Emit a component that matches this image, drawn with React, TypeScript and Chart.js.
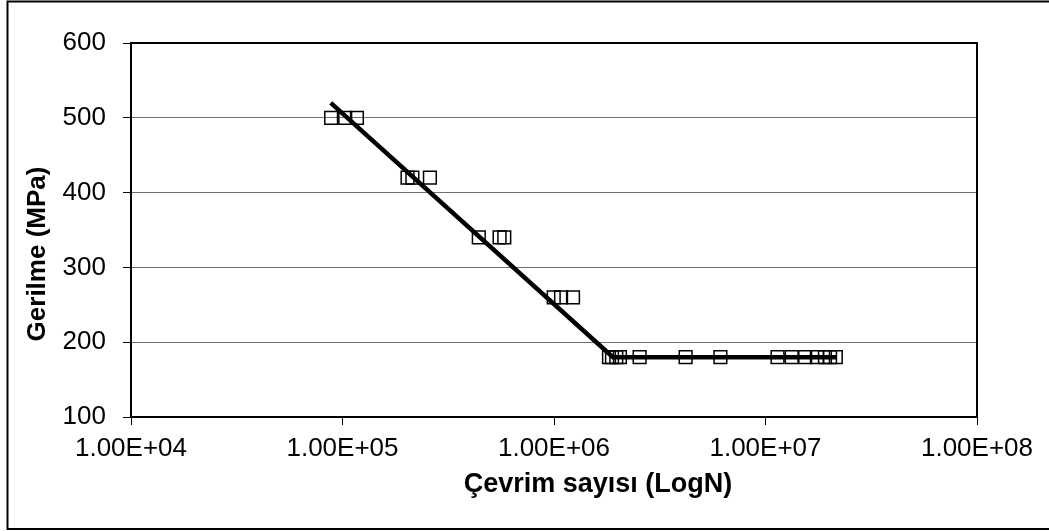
import React, { useEffect, useRef } from "react";
import { Chart, registerables } from "chart.js";

Chart.register(...registerables);

// ---- data ----
const stressLevels = [500, 420, 340, 260, 180];
const cycles500 = [8.84e4, 1.03e5, 1.17e5];
const cycles420 = [2.03e5, 2.14e5, 2.59e5];
const cycles340 = [4.41e5, 5.53e5, 5.82e5];
const cycles260 = [9.97e5, 1.08e6, 1.23e6];
const cycles180 = [
  1.82e6, 1.88e6, 1.97e6, 2.05e6, 2.54e6, 4.19e6, 6.12e6, 1.14e7, 1.33e7, 1.54e7, 1.75e7, 1.91e7,
  2.02e7, 2.15e7,
];
const cyclesByLevel = [cycles500, cycles420, cycles340, cycles260, cycles180];

const fitCycles = [8.8e4, 1.9e6, 2.17e7];
const fitStress = [520, 180, 180];

const xTickValues = [1e4, 1e5, 1e6, 1e7, 1e8];
const yMin = 100;
const yMax = 600;
const yStep = 100;

const xTitle = "Çevrim sayısı (LogN)";
const yTitle = "Gerilme (MPa)";

const FONT = '"Liberation Sans", Arial, sans-serif';

function sci(v: number): string {
  const e = Math.round(Math.log10(v));
  const m = v / Math.pow(10, e);
  const sign = e < 0 ? "-" : "+";
  return m.toFixed(2) + "E" + sign + String(Math.abs(e)).padStart(2, "0");
}

const framePlugin = {
  id: "frame",
  beforeDraw(chart: any) {
    const { ctx } = chart;
    ctx.save();
    ctx.fillStyle = "#ffffff";
    ctx.fillRect(0, 0, chart.width, chart.height);
    ctx.restore();
  },
  afterDraw(chart: any) {
    const { ctx, chartArea: a } = chart;
    ctx.save();
    ctx.strokeStyle = "#000";
    ctx.lineWidth = 2;
    ctx.strokeRect(a.left, a.top, a.right - a.left, a.bottom - a.top);
    // outer frame (right edge lies outside the picture)
    ctx.beginPath();
    ctx.moveTo(chart.width + 4, 1.5);
    ctx.lineTo(7.5, 1.5);
    ctx.lineTo(7.5, chart.height - 2);
    ctx.lineTo(chart.width + 4, chart.height - 2);
    ctx.stroke();

    // axis titles
    ctx.fillStyle = "#000";
    ctx.textAlign = "center";
    ctx.textBaseline = "alphabetic";
    ctx.font = `bold 27px ${FONT}`;
    ctx.fillText(xTitle, (a.left + a.right) / 2 + 44, a.bottom + 75);

    ctx.translate(45, (a.top + a.bottom) / 2 + 24);
    ctx.rotate(-Math.PI / 2);
    ctx.font = `bold 26px ${FONT}`;
    ctx.fillText(yTitle, 0, 0);
    ctx.restore();
  },
};

export default function App() {
  const canvasRef = useRef<HTMLCanvasElement | null>(null);

  useEffect(() => {
    if (!canvasRef.current) return;
    const points: { x: number; y: number }[] = [];
    stressLevels.forEach((s, i) => {
      cyclesByLevel[i].forEach((n) => points.push({ x: n, y: s }));
    });
    const fit = fitCycles.map((n, i) => ({ x: n, y: fitStress[i] }));

    const chart = new Chart(canvasRef.current, {
      type: "scatter",
      data: {
        datasets: [
          {
            label: "fit",
            data: fit,
            showLine: true,
            borderColor: "#000",
            borderWidth: 4.5,
            pointRadius: 0,
            fill: false,
          },
          {
            label: "data",
            data: points,
            showLine: false,
            pointStyle: "rect",
            pointRadius: 9,
            borderColor: "#000",
            borderWidth: 1.5,
            backgroundColor: "rgba(0,0,0,0)",
          },
        ],
      },
      options: {
        responsive: false,
        animation: false,
        devicePixelRatio: 1,
        layout: { padding: { left: 0, top: 43, right: 72, bottom: 0 } },
        plugins: {
          legend: { display: false },
          tooltip: { enabled: false },
        },
        scales: {
          x: {
            type: "logarithmic",
            position: "bottom",
            min: xTickValues[0],
            max: xTickValues[xTickValues.length - 1],
            afterBuildTicks: (s: any) => {
              s.ticks = xTickValues.map((v) => ({ value: v, major: true }));
            },
            afterFit: (s: any) => {
              s.height = 114;
            },
            ticks: {
              autoSkip: false,
              maxRotation: 0,
              minRotation: 0,
              padding: 8,
              color: "#000",
              font: { family: FONT, size: 26 },
              callback: (v: any) => sci(Number(v)),
            },
            grid: {
              drawOnChartArea: false,
              drawTicks: true,
              tickLength: 8,
              tickColor: "#000",
              tickWidth: 1,
            },
            border: { display: false },
          },
          y: {
            type: "linear",
            min: yMin,
            max: yMax,
            afterFit: (s: any) => {
              s.width = 131;
            },
            ticks: {
              stepSize: yStep,
              padding: 17,
              color: "#000",
              font: { family: FONT, size: 26 },
            },
            grid: {
              color: "#707070",
              lineWidth: 1,
              drawTicks: true,
              tickLength: 8,
              tickColor: "#000",
              tickWidth: 1,
            },
            border: { display: false },
          },
        },
      },
      plugins: [framePlugin],
    } as any);

    return () => chart.destroy();
  }, []);

  return (
    <div style={{ position: "absolute", left: 0, top: 0, width: 1049, height: 531, background: "#fff" }}>
      <canvas ref={canvasRef} width={1049} height={531} style={{ display: "block" }} />
    </div>
  );
}
